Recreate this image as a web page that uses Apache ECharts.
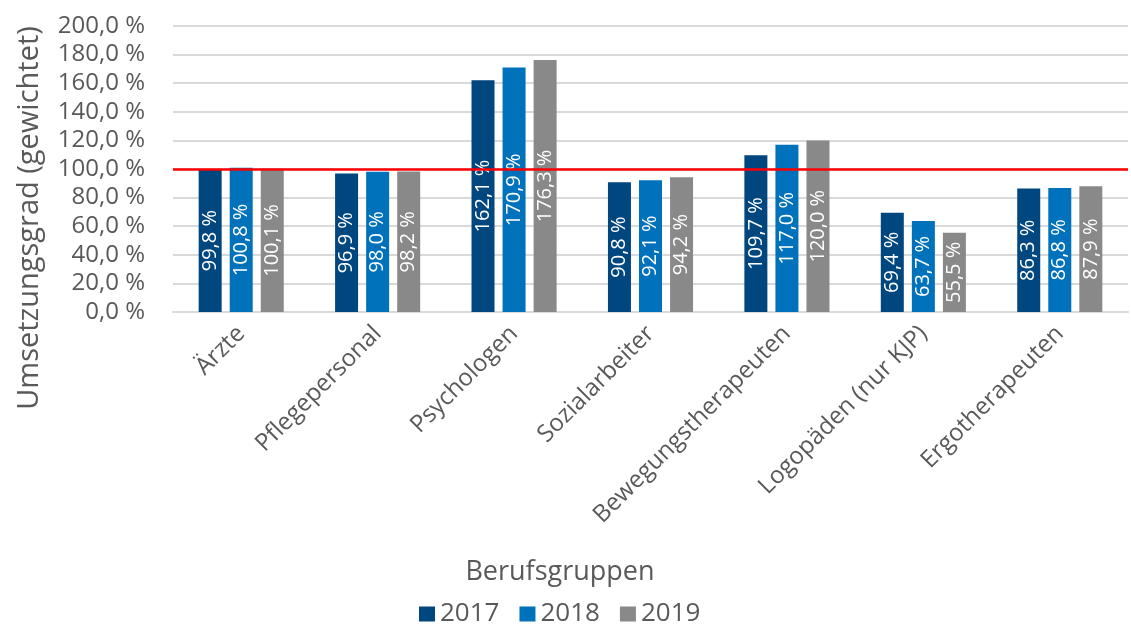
<!DOCTYPE html>
<html>
<head>
<meta charset="utf-8">
<script src="https://cdn.jsdelivr.net/npm/echarts@6/dist/echarts.min.js"></script>
<style>html,body{margin:0;padding:0;background:#fff}#c{width:1131px;height:625px}</style>
</head>
<body>
<div id="c"></div>
<script>
var categories = ["Ärzte", "Pflegepersonal", "Psychologen", "Sozialarbeiter", "Bewegungstherapeuten", "Logopäden (nur KJP)", "Ergotherapeuten"];
var years = ["2017", "2018", "2019"];
var values2017 = [99.8, 96.9, 162.1, 90.8, 109.7, 69.4, 86.3];
var values2018 = [100.8, 98.0, 170.9, 92.1, 117.0, 63.7, 86.8];
var values2019 = [100.1, 98.2, 176.3, 94.2, 120.0, 55.5, 87.9];
var targetValue = 100;
var yTicks = [0, 20, 40, 60, 80, 100, 120, 140, 160, 180, 200];
var yTitle = "Umsetzungsgrad (gewichtet)";
var xTitle = "Berufsgruppen";

var FONT = "Open Sans";
var TXT = "#595959";
var colors = ["#00467f", "#0071bb", "#898989"];

function fmt(v) { return v.toFixed(1).replace(".", ",") + " %"; }

function makeSeries(name, data, idx) {
  var s = {
    name: name,
    type: "bar",
    data: data,
    barWidth: 23,
    barGap: "35%",
    itemStyle: { color: colors[idx] },
    label: {
      show: true,
      position: "inside",
      rotate: 90,
      color: "#ffffff",
      fontFamily: FONT,
      fontSize: 20,
      formatter: function (p) { return fmt(p.value); }
    },
    z: 2
  };
  if (idx === 0) {
    s.markLine = {
      silent: true,
      symbol: ["none", "none"],
      label: { show: false },
      lineStyle: { color: "#ff0000", width: 2.5, type: "solid" },
      data: [{ yAxis: targetValue }],
      z: 5
    };
  }
  return s;
}

var chart = echarts.init(document.getElementById("c"), null, { renderer: "canvas" });
chart.setOption({
  animation: false,
  backgroundColor: "#ffffff",
  textStyle: { fontFamily: FONT },
  grid: { left: 173, right: 3, top: 26, bottom: 313, containLabel: false },
  legend: {
    data: years,
    top: 601,
    left: 419,
    padding: 0,
    itemWidth: 16,
    itemHeight: 15,
    itemGap: 20,
    icon: "rect",
    textStyle: { color: TXT, fontFamily: FONT, fontSize: 26, padding: [0, 0, 0, 0] }
  },
  xAxis: {
    type: "category",
    data: categories,
    axisLine: { lineStyle: { color: "#d9d9d9", width: 2 } },
    axisTick: { show: false },
    axisLabel: { rotate: 45, color: TXT, fontFamily: FONT, fontSize: 24, margin: 18, interval: 0 }
  },
  yAxis: {
    type: "value",
    min: yTicks[0],
    max: yTicks[yTicks.length - 1],
    interval: 20,
    axisLine: { show: false },
    axisTick: { show: false },
    splitLine: { lineStyle: { color: "#d9d9d9", width: 2 } },
    axisLabel: { color: TXT, fontFamily: FONT, fontSize: 24, margin: 28, formatter: function (v) { return fmt(v); } }
  },
  graphic: [{
    type: "text",
    x: 30,
    y: 218,
    rotation: Math.PI / 2,
    style: { text: yTitle, fill: TXT, font: "29px 'Open Sans'", align: "center", verticalAlign: "middle" }
  }, {
    type: "text",
    x: 560,
    y: 572,
    style: { text: xTitle, fill: TXT, font: "27px 'Open Sans'", align: "center", verticalAlign: "middle" }
  }],
  series: [
    makeSeries(years[0], values2017, 0),
    makeSeries(years[1], values2018, 1),
    makeSeries(years[2], values2019, 2)
  ]
});
</script>
</body>
</html>
